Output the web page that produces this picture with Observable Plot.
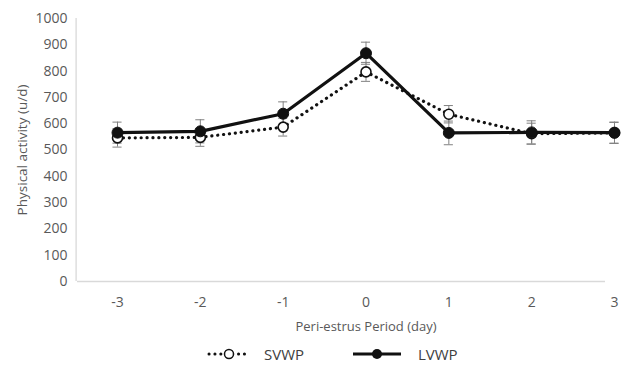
<!DOCTYPE html>
<html>
<head>
<meta charset="utf-8">
<script src="https://cdn.jsdelivr.net/npm/d3@7"></script>
<script src="https://cdn.jsdelivr.net/npm/@observablehq/plot@0.6"></script>
<style>
  html, body { margin: 0; padding: 0; background: #fff; }
  body { width: 625px; height: 366px; overflow: hidden; font-family: "Open Sans", sans-serif; }
  #legend { position: relative; height: 26px; color: #404040; font-size: 15px; }
  #legend .item { display: flex; align-items: center; position: absolute; }
</style>
</head>
<body>
<div id="chart"></div>
<div id="legend"></div>
<script>
const days = [-3, -2, -1, 0, 1, 2, 3];
const svwpMean = [546, 548, 587, 797, 636, 562, 565];
const svwpErr  = [35, 34, 34, 36, 33, 40, 40];
const lvwpMean = [566, 571, 638, 868, 565, 567, 566];
const lvwpErr  = [40, 44, 45, 42, 45, 44, 40];
const yTicks = [0, 100, 200, 300, 400, 500, 600, 700, 800, 900, 1000];
const seriesNames = ["SVWP", "LVWP"];

const rows = [];
days.forEach((d, i) => {
  rows.push({series: "SVWP", day: d, mean: svwpMean[i], err: svwpErr[i]});
  rows.push({series: "LVWP", day: d, mean: lvwpMean[i], err: lvwpErr[i]});
});
const sv = rows.filter(r => r.series === "SVWP");
const lv = rows.filter(r => r.series === "LVWP");
const capHalf = 0.055;
const fmtX = d => d < 0 ? "-" + Math.abs(d) : String(d);

const chart = Plot.plot({
  width: 625,
  height: 340,
  marginTop: 18,
  marginBottom: 59,
  marginLeft: 77,
  style: {fontFamily: "'Open Sans', sans-serif", fontSize: "13px", color: "#595959", background: "#fff"},
  x: {domain: [-3.5, 3.5], range: [75.6, 655.4]},
  y: {domain: [0, 1000]},
  marks: [
    Plot.ruleY([0], {stroke: "#d9d9d9", strokeWidth: 1.3}),
    Plot.ruleX([-3.5], {stroke: "#d9d9d9", strokeWidth: 1.3}),
    Plot.axisY({ticks: yTicks, tickSize: 0, tickPadding: 10, label: null, fill: "#595959", fontSize: 14, tickFormat: d => String(d)}),
    Plot.axisX({ticks: days, tickSize: 0, tickPadding: 16, label: null, fill: "#595959", fontSize: 14, tickFormat: fmtX}),
    Plot.text(["Physical activity (u/d)"], {frameAnchor: "left", textAnchor: "middle", rotate: -90, dx: -55, fill: "#595959", fontSize: 13.5}),
    Plot.text(["Peri-estrus Period (day)"], {x: 0, frameAnchor: "bottom", dy: 49, fill: "#595959", fontSize: 13}),
    // error bars
    Plot.ruleX(rows, {x: "day", y1: d => d.mean - d.err, y2: d => d.mean + d.err, stroke: "#808080", strokeWidth: 1}),
    Plot.ruleY(rows, {y: d => d.mean - d.err, x1: d => d.day - capHalf, x2: d => d.day + capHalf, stroke: "#808080", strokeWidth: 1}),
    Plot.ruleY(rows, {y: d => d.mean + d.err, x1: d => d.day - capHalf, x2: d => d.day + capHalf, stroke: "#808080", strokeWidth: 1}),
    // lines
    Plot.line(sv, {x: "day", y: "mean", stroke: "#111", strokeWidth: 3.2, strokeDasharray: "0.1 5.8", strokeLinecap: "round"}),
    Plot.line(lv, {x: "day", y: "mean", stroke: "#111", strokeWidth: 3.2}),
    Plot.dot(sv, {x: "day", y: "mean", r: 5, fill: "#fff", stroke: "#111", strokeWidth: 1.6}),
    Plot.dot(lv, {x: "day", y: "mean", r: 5.5, fill: "#111", stroke: "#111", strokeWidth: 1})
  ]
});
document.getElementById("chart").appendChild(chart);

// legend
const legend = document.getElementById("legend");
const items = [
  {name: seriesNames[0], left: 206, gap: 12, svg: `<svg width="46" height="12"><line x1="3" y1="6" x2="43" y2="6" stroke="#111" stroke-width="3" stroke-dasharray="0.1 5.8" stroke-linecap="round"/><circle cx="23" cy="6" r="4.5" fill="#fff" stroke="#111" stroke-width="1.5"/></svg>`},
  {name: seriesNames[1], left: 353, gap: 17, svg: `<svg width="48" height="12"><line x1="0" y1="6" x2="48" y2="6" stroke="#111" stroke-width="3.2"/><circle cx="24" cy="6" r="5" fill="#111"/></svg>`}
];
items.forEach(it => {
  const el = document.createElement("div");
  el.className = "item";
  el.style.left = it.left + "px";
  el.style.top = "4px";
  el.innerHTML = it.svg + `<span style="margin-left:${it.gap}px">${it.name}</span>`;
  legend.appendChild(el);
});
</script>
</body>
</html>
